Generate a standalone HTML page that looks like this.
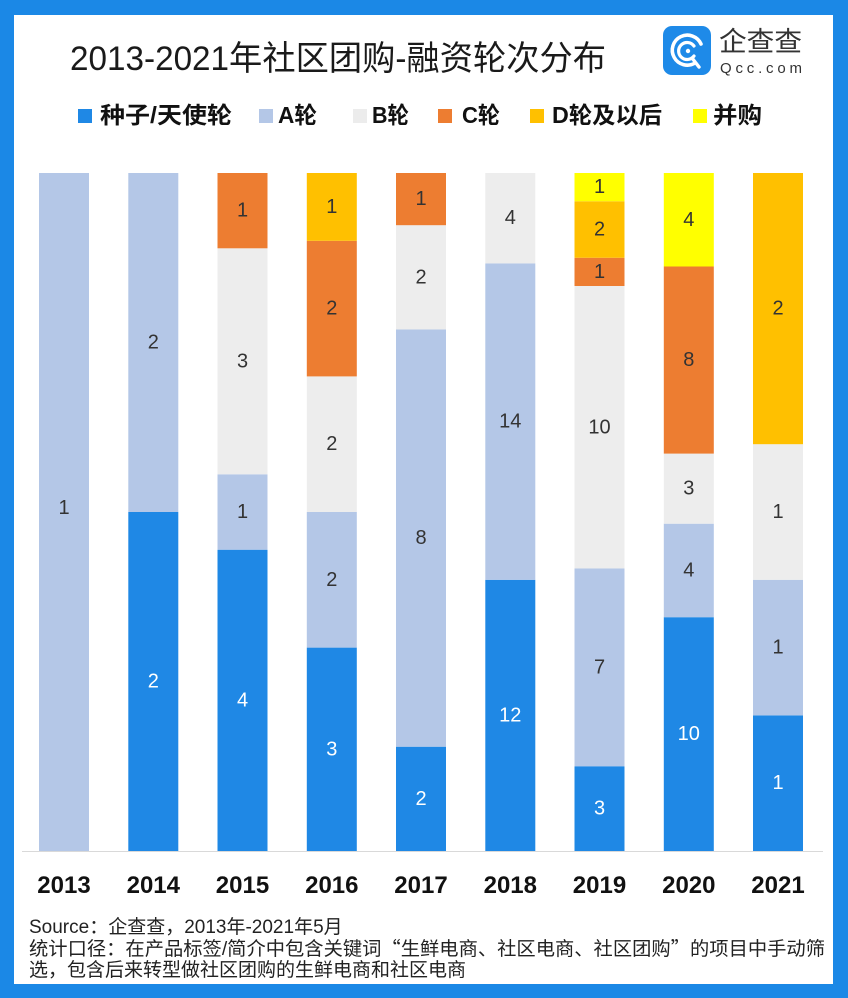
<!DOCTYPE html>
<html>
<head>
<meta charset="utf-8">
<style>
  html,body{margin:0;padding:0;}
  body{width:848px;height:998px;background:#1b88e6;overflow:hidden;position:relative;}
  svg{position:absolute;left:0;top:0;}
  text{font-family:"Liberation Sans","Noto Sans CJK SC",sans-serif;}
</style>
</head>
<body>
<svg width="848" height="998" viewBox="0 0 848 998" xmlns="http://www.w3.org/2000/svg">
  <!-- white panel -->
  <rect x="14" y="15" width="819" height="969" fill="#ffffff"/>

  <!-- title -->
  <text x="70" y="70" font-size="34" fill="#1a1a1a" textLength="536" lengthAdjust="spacingAndGlyphs">2013-2021年社区团购-融资轮次分布</text>

  <!-- logo -->
  <rect x="663" y="26" width="48" height="49" rx="9" ry="9" fill="#1e8ae8"/>
  <g fill="none" stroke="#ffffff" stroke-linecap="round">
    <path d="M 701 44 A 15 15 0 1 0 695 63" stroke-width="3.6"/>
    <path d="M 694 46 A 8.5 8.5 0 1 0 694 56" stroke-width="3.2"/>
    <path d="M 692 58 L 699 67" stroke-width="3.4"/>
  </g>
  <circle cx="688" cy="51" r="2.2" fill="#ffffff"/>
  <text x="719" y="51" font-size="27" fill="#333" font-family="Noto Sans CJK SC, sans-serif" textLength="83" lengthAdjust="spacingAndGlyphs">企查查</text>
  <text x="720" y="73" font-size="15" fill="#333" textLength="82" lengthAdjust="spacing">Qcc.com</text>

  <!-- legend -->
  <g font-size="23" font-weight="bold" fill="#111">
    <rect x="78" y="109" width="14" height="14" fill="#1f88e5"/>
    <text x="100" y="123" textLength="132" lengthAdjust="spacingAndGlyphs">种子/天使轮</text>
    <rect x="259" y="109" width="14" height="14" fill="#b4c7e7"/>
    <text x="278" y="123" textLength="39" lengthAdjust="spacingAndGlyphs">A轮</text>
    <rect x="353" y="109" width="14" height="14" fill="#ececec"/>
    <text x="372" y="123" textLength="37" lengthAdjust="spacingAndGlyphs">B轮</text>
    <rect x="438" y="109" width="14" height="14" fill="#ed7d31"/>
    <text x="462" y="123" textLength="38" lengthAdjust="spacingAndGlyphs">C轮</text>
    <rect x="530" y="109" width="14" height="14" fill="#ffc000"/>
    <text x="552" y="123" textLength="110" lengthAdjust="spacingAndGlyphs">D轮及以后</text>
    <rect x="693" y="109" width="14" height="14" fill="#ffff00"/>
    <text x="713" y="123" textLength="49" lengthAdjust="spacingAndGlyphs">并购</text>
  </g>

  <!-- bars -->
  <g>
    <!-- 2013 -->
    <rect x="39" y="173" width="50" height="678" fill="#b4c7e7"/>
    <!-- 2014 -->
    <rect x="128.3" y="512" width="50" height="339" fill="#1f88e5"/>
    <rect x="128.3" y="173" width="50" height="339" fill="#b4c7e7"/>
    <!-- 2015 -->
    <rect x="217.5" y="549.7" width="50" height="301.3" fill="#1f88e5"/>
    <rect x="217.5" y="474.3" width="50" height="75.4" fill="#b4c7e7"/>
    <rect x="217.5" y="248.3" width="50" height="226" fill="#ededed"/>
    <rect x="217.5" y="173" width="50" height="75.3" fill="#ed7d31"/>
    <!-- 2016 -->
    <rect x="306.8" y="647.6" width="50" height="203.4" fill="#1f88e5"/>
    <rect x="306.8" y="512" width="50" height="135.6" fill="#b4c7e7"/>
    <rect x="306.8" y="376.4" width="50" height="135.6" fill="#ededed"/>
    <rect x="306.8" y="240.8" width="50" height="135.6" fill="#ed7d31"/>
    <rect x="306.8" y="173" width="50" height="67.8" fill="#ffc000"/>
    <!-- 2017 -->
    <rect x="396" y="746.7" width="50" height="104.3" fill="#1f88e5"/>
    <rect x="396" y="329.5" width="50" height="417.2" fill="#b4c7e7"/>
    <rect x="396" y="225.2" width="50" height="104.3" fill="#ededed"/>
    <rect x="396" y="173" width="50" height="52.2" fill="#ed7d31"/>
    <!-- 2018 -->
    <rect x="485.3" y="579.8" width="50" height="271.2" fill="#1f88e5"/>
    <rect x="485.3" y="263.4" width="50" height="316.4" fill="#b4c7e7"/>
    <rect x="485.3" y="173" width="50" height="90.4" fill="#ededed"/>
    <!-- 2019 -->
    <rect x="574.5" y="766.25" width="50" height="84.75" fill="#1f88e5"/>
    <rect x="574.5" y="568.5" width="50" height="197.75" fill="#b4c7e7"/>
    <rect x="574.5" y="286" width="50" height="282.5" fill="#ededed"/>
    <rect x="574.5" y="257.75" width="50" height="28.25" fill="#ed7d31"/>
    <rect x="574.5" y="201.25" width="50" height="56.5" fill="#ffc000"/>
    <rect x="574.5" y="173" width="50" height="28.25" fill="#ffff00"/>
    <!-- 2020 -->
    <rect x="663.8" y="617.2" width="50" height="233.8" fill="#1f88e5"/>
    <rect x="663.8" y="523.7" width="50" height="93.5" fill="#b4c7e7"/>
    <rect x="663.8" y="453.6" width="50" height="70.1" fill="#ededed"/>
    <rect x="663.8" y="266.5" width="50" height="187.1" fill="#ed7d31"/>
    <rect x="663.8" y="173" width="50" height="93.5" fill="#ffff00"/>
    <!-- 2021 -->
    <rect x="753" y="715.4" width="50" height="135.6" fill="#1f88e5"/>
    <rect x="753" y="579.8" width="50" height="135.6" fill="#b4c7e7"/>
    <rect x="753" y="444.2" width="50" height="135.6" fill="#ededed"/>
    <rect x="753" y="173" width="50" height="271.2" fill="#ffc000"/>
  </g>

  <!-- axis line -->
  <line x1="22" y1="851.5" x2="823" y2="851.5" stroke="#d9d9d9" stroke-width="1"/>

  <!-- value labels -->
  <g font-size="20" text-anchor="middle" dominant-baseline="central" fill="#333">
    <text x="64" y="508">1</text>

    <text x="153.3" y="681.5" fill="#fff">2</text>
    <text x="153.3" y="342.5">2</text>

    <text x="242.5" y="700.3" fill="#fff">4</text>
    <text x="242.5" y="512">1</text>
    <text x="242.5" y="361.3">3</text>
    <text x="242.5" y="210.7">1</text>

    <text x="331.8" y="749.3" fill="#fff">3</text>
    <text x="331.8" y="579.8">2</text>
    <text x="331.8" y="444.2">2</text>
    <text x="331.8" y="308.6">2</text>
    <text x="331.8" y="206.9">1</text>

    <text x="421" y="798.8" fill="#fff">2</text>
    <text x="421" y="538.1">8</text>
    <text x="421" y="277.4">2</text>
    <text x="421" y="199.1">1</text>

    <text x="510.3" y="715.4" fill="#fff">12</text>
    <text x="510.3" y="421.6">14</text>
    <text x="510.3" y="218.2">4</text>

    <text x="599.5" y="808.6" fill="#fff">3</text>
    <text x="599.5" y="667.4">7</text>
    <text x="599.5" y="427.3">10</text>
    <text x="599.5" y="271.9">1</text>
    <text x="599.5" y="229.5">2</text>
    <text x="599.5" y="187.1">1</text>

    <text x="688.8" y="734.1" fill="#fff">10</text>
    <text x="688.8" y="570.5">4</text>
    <text x="688.8" y="488.6">3</text>
    <text x="688.8" y="360">8</text>
    <text x="688.8" y="219.8">4</text>

    <text x="778" y="783.2" fill="#fff">1</text>
    <text x="778" y="647.6">1</text>
    <text x="778" y="512">1</text>
    <text x="778" y="308.6">2</text>
  </g>

  <!-- year labels -->
  <g font-size="24" font-weight="bold" text-anchor="middle" fill="#111">
    <text x="64" y="893">2013</text>
    <text x="153.3" y="893">2014</text>
    <text x="242.5" y="893">2015</text>
    <text x="331.8" y="893">2016</text>
    <text x="421" y="893">2017</text>
    <text x="510.3" y="893">2018</text>
    <text x="599.5" y="893">2019</text>
    <text x="688.8" y="893">2020</text>
    <text x="778" y="893">2021</text>
  </g>

  <!-- footer -->
  <g font-size="19" fill="#222">
    <text x="29" y="933">Source：企查查，2013年-2021年5月</text>
    <text x="29" y="955" textLength="796" lengthAdjust="spacingAndGlyphs">统计口径：在产品标签/简介中包含关键词<tspan font-family="Noto Sans CJK SC, sans-serif">“</tspan>生鲜电商、社区电商、社区团购<tspan font-family="Noto Sans CJK SC, sans-serif">”</tspan>的项目中手动筛</text>
    <text x="29" y="976">选，包含后来转型做社区团购的生鲜电商和社区电商</text>
  </g>
</svg>
</body>
</html>
